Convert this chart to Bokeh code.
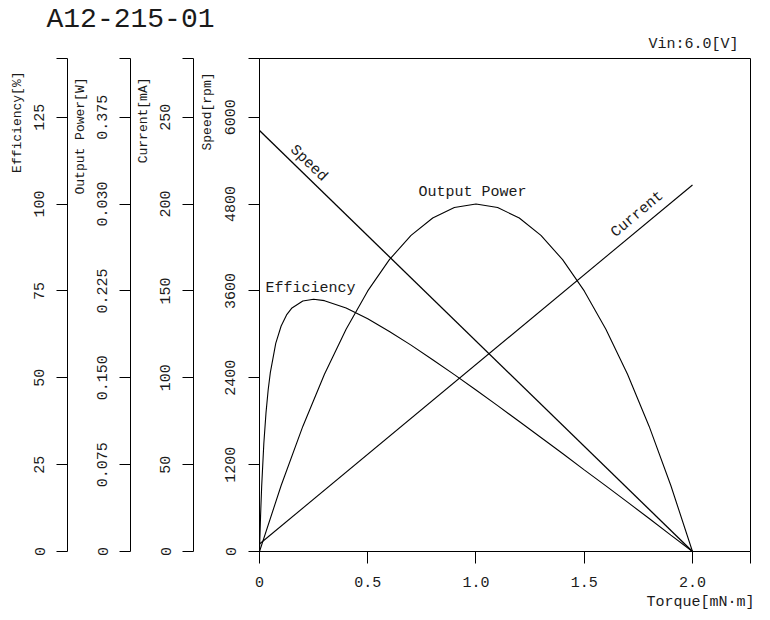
from bokeh.plotting import figure
from bokeh.models import Range1d, LinearAxis, FixedTicker, Label, Title
from bokeh.embed import file_html
from bokeh.resources import INLINE

# ---------------- data ----------------
title_text = "A12-215-01"
vin_text = "Vin:6.0[V]"

x_ticks = [0, 0.5, 1.0, 1.5, 2.0]
x_tick_labels = ["0", "0.5", "1.0", "1.5", "2.0"]

speed_ticks = [0, 1200, 2400, 3600, 4800, 6000]
current_ticks = [0, 50, 100, 150, 200, 250]
power_ticks = [0, 0.075, 0.15, 0.225, 0.3, 0.375]
power_tick_labels = ["0", "0.075", "0.150", "0.225", "0.030", "0.375"]
eff_ticks = [0, 25, 50, 75, 100, 125]

# Speed [rpm] vs torque
speed_torque = [0.0, 2.0]
speed_rpm = [5816, 0]

# Current [mA] vs torque
current_torque = [0.0, 2.0]
current_ma = [4.3, 211.0]

# Output power [W] vs torque
power_torque = [0.0, 0.1, 0.2, 0.3, 0.4, 0.5, 0.6, 0.7, 0.8, 0.9, 1.0,
                1.1, 1.2, 1.3, 1.4, 1.5, 1.6, 1.7, 1.8, 1.9, 2.0]
power_w = [0.0, 0.057, 0.108, 0.153, 0.192, 0.225, 0.252, 0.273, 0.288, 0.297, 0.300,
           0.297, 0.288, 0.273, 0.252, 0.225, 0.192, 0.153, 0.108, 0.057, 0.0]

# Efficiency [%] vs torque
eff_torque = [0.0, 0.005, 0.01, 0.02, 0.03, 0.04, 0.05, 0.075, 0.1, 0.125, 0.15,
              0.2, 0.25, 0.3, 0.4, 0.5, 0.6, 0.7, 0.8, 0.9, 1.0,
              1.1, 1.2, 1.3, 1.4, 1.5, 1.6, 1.7, 1.8, 1.9, 2.0]
eff_pct = [0.0, 10.4, 18.7, 31.1, 39.9, 46.5, 51.5, 59.9, 64.9, 68.1, 70.1,
           72.1, 72.6, 72.2, 70.1, 67.0, 63.3, 59.4, 55.2, 50.9, 46.5,
           42.0, 37.4, 32.8, 28.2, 23.5, 18.9, 14.2, 9.5, 4.7, 0.0]

# axis range ends (top of the frame)
x_end = 2.268
speed_end = 6811
current_end = 283.8
power_end = 0.4257
eff_end = 141.9

FONT = "Liberation Mono"
TXT = "#1a1a1a"

p = figure(width=762, height=618, output_backend="svg", toolbar_location=None,
           x_range=Range1d(0, x_end), y_range=Range1d(0, speed_end),
           min_border_left=259, min_border_right=12, min_border_top=58, min_border_bottom=67)
p.title.visible = False
p.grid.visible = False
p.outline_line_color = "black"
p.outline_line_width = 1
p.background_fill_color = "white"
p.border_fill_color = "white"

p.extra_y_ranges = {"cur": Range1d(0, current_end),
                    "pow": Range1d(0, power_end),
                    "eff": Range1d(0, eff_end)}


def style_y(ax, ticks, end, standoff, overrides=None):
    ax.ticker = FixedTicker(ticks=ticks, minor_ticks=[end])
    if overrides:
        ax.major_label_overrides = overrides
    ax.major_label_orientation = "vertical"
    ax.major_label_text_font = FONT
    ax.major_label_text_font_size = "15px"
    ax.major_label_text_color = TXT
    ax.major_label_standoff = standoff
    ax.major_tick_in = 0
    ax.major_tick_out = 11
    ax.minor_tick_in = 0
    ax.minor_tick_out = 11
    ax.axis_line_color = "black"
    ax.major_tick_line_color = "black"
    ax.minor_tick_line_color = "black"


def side_title(text, offset, standoff):
    # axis name placed at the top end of its axis, reading bottom-to-top
    p.add_layout(Title(text=text, align="right", vertical_align="top",
                       offset=offset, standoff=standoff,
                       text_font=FONT, text_font_size="13px", text_font_style="normal",
                       text_color=TXT), "left")


style_y(p.yaxis[0], speed_ticks, speed_end, 13)
side_title("Speed[rpm]", 14, 12)

ax_cur = LinearAxis(y_range_name="cur")
style_y(ax_cur, current_ticks, current_end, 12)
p.add_layout(ax_cur, "left")
side_title("Current[mA]", 19, 10)

ax_pow = LinearAxis(y_range_name="pow")
style_y(ax_pow, power_ticks, power_end, 12,
        {t: s for t, s in zip(power_ticks, power_tick_labels)})
p.add_layout(ax_pow, "left")
side_title("Output Power[W]", 19, 10)

ax_eff = LinearAxis(y_range_name="eff")
style_y(ax_eff, eff_ticks, eff_end, 12)
p.add_layout(ax_eff, "left")
side_title("Efficiency[%]", 13, 10)

xa = p.xaxis[0]
xa.ticker = FixedTicker(ticks=x_ticks, minor_ticks=[x_end])
xa.major_label_overrides = {t: s for t, s in zip(x_ticks, x_tick_labels)}
xa.major_label_text_font = FONT
xa.major_label_text_font_size = "15px"
xa.major_label_text_color = TXT
xa.major_label_standoff = 13
xa.major_tick_in = 0
xa.major_tick_out = 12
xa.minor_tick_in = 0
xa.minor_tick_out = 12
xa.axis_line_color = "black"
xa.major_tick_line_color = "black"
xa.minor_tick_line_color = "black"

p.add_layout(Title(text="Torque[mN·m]", align="right", offset=-4, standoff=8,
                   vertical_align="top",
                   text_font=FONT, text_font_size="15px", text_font_style="normal",
                   text_color=TXT), "below")

# header texts (Vin nearest the frame, main title above it)
p.add_layout(Title(text=vin_text, align="right", offset=12, standoff=11,
                   text_font=FONT, text_font_size="15px", text_font_style="normal",
                   text_color=TXT), "above")
p.add_layout(Title(text=title_text, align="left", offset=-213, standoff=-12,
                   text_font=FONT, text_font_size="28px", text_font_style="normal",
                   text_color=TXT), "above")

# curves
p.line(speed_torque, speed_rpm, line_color="black", line_width=1.3)
p.line(current_torque, current_ma, y_range_name="cur", line_color="black", line_width=1.1)
p.line(power_torque, power_w, y_range_name="pow", line_color="black", line_width=1.1)
p.line(eff_torque, eff_pct, y_range_name="eff", line_color="black", line_width=1.1)


# curve names
def lab(x, y, text, angle=0.0, align="left", baseline="middle", size="15px"):
    p.add_layout(Label(x=x, y=y, text=text, angle=angle, text_align=align,
                       text_baseline=baseline, text_font=FONT, text_font_size=size,
                       text_color=TXT))


lab(0.226, 5360, "Speed", angle=-0.771, align="center")
lab(1.746, 4655, "Current", angle=0.693, align="center")
lab(0.734, 4966, "Output Power")
lab(0.028, 3632, "Efficiency")

open("out.html", "w").write(file_html(p, INLINE))
